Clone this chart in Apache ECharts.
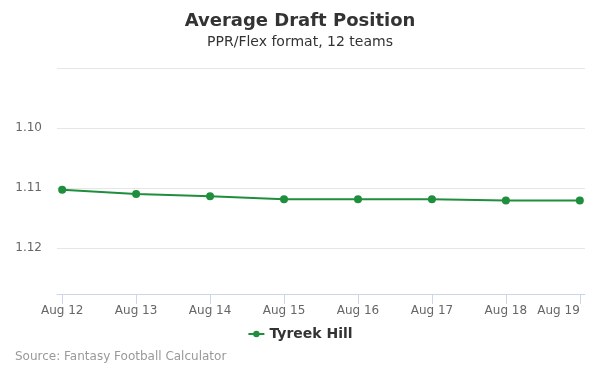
<!DOCTYPE html>
<html>
<head>
<meta charset="utf-8">
<script src="https://cdn.jsdelivr.net/npm/echarts@6/dist/echarts.min.js"></script>
<style>
  html, body { margin: 0; padding: 0; background: #fff; }
</style>
</head>
<body>
<div id="adpView" style="width:600px;height:375px;"></div>
<script>
    // ADP chart data
    var dates = ['Aug 12', 'Aug 13', 'Aug 14', 'Aug 15', 'Aug 16', 'Aug 17', 'Aug 18', 'Aug 19']
    var playerName = 'Tyreek Hill'
    // pick number within round 1
    var adpValues = [11.03, 11.10, 11.14, 11.19, 11.19, 11.19, 11.21, 11.21]
    var yTickValues = [10, 11, 12]
    var yTickLabels = ['1.10', '1.11', '1.12']

    var lineColor = '#1f8f3e'
    var font = 'DejaVu Sans'

    var chart = echarts.init(document.getElementById('adpView'))
    chart.setOption({
        animation: false,
        textStyle: { fontFamily: font },
        title: [{
            text: 'Average Draft Position',
            left: 'center',
            top: 12,
            padding: 0,
            textStyle: { fontFamily: font, fontSize: 18, fontWeight: 'bold', color: '#333' }
        }, {
            text: 'PPR/Flex format, 12 teams',
            left: 'center',
            top: 35,
            padding: 0,
            textStyle: { fontFamily: font, fontSize: 14, fontWeight: 'normal', color: '#333' }
        }, {
            text: 'Source: Fantasy Football Calculator',
            left: 15,
            top: 351,
            padding: 0,
            textStyle: { fontFamily: font, fontSize: 12, fontWeight: 'normal', color: '#999' }
        }],
        legend: {
            data: [playerName],
            left: 'center',
            top: 322,
            itemWidth: 16,
            itemHeight: 8,
            itemGap: 6,
            textStyle: { fontFamily: font, fontSize: 14, fontWeight: 'bold', color: '#333' }
        },
        grid: {
            left: 57,
            right: 15,
            top: 68,
            bottom: 81
        },
        xAxis: {
            type: 'value',
            min: -0.07,
            max: dates.length - 1 + 0.07,
            splitLine: { show: false },
            axisLine: { show: true, lineStyle: { color: '#ccd6eb' } },
            axisTick: {
                show: true,
                length: 10,
                lineStyle: { color: '#ccd6eb' },
                customValues: dates.map(function (d, i) { return i })
            },
            axisLabel: {
                color: '#666',
                fontSize: 12,
                margin: 11,
                customValues: dates.map(function (d, i) { return i }),
                formatter: function (v) { return dates[Math.round(v)] },
                alignMaxLabel: 'right'
            }
        },
        yAxis: {
            type: 'value',
            inverse: true,
            min: 9,
            max: 12.77,
            interval: 1,
            axisLine: { show: false },
            axisTick: { show: false },
            splitLine: { lineStyle: { color: '#e6e6e6' } },
            axisLabel: {
                color: '#666',
                fontSize: 12,
                margin: 15,
                padding: [5, 0, 0, 0],
                customValues: yTickValues,
                formatter: function (v) {
                    var i = yTickValues.indexOf(Math.round(v))
                    return i >= 0 ? yTickLabels[i] : ''
                }
            }
        },
        series: [{
            name: playerName,
            type: 'line',
            data: adpValues.map(function (v, i) { return [i, v] }),
            symbol: 'circle',
            symbolSize: 8,
            itemStyle: { color: lineColor },
            lineStyle: { color: lineColor, width: 2 }
        }]
    })
</script>
</body>
</html>
